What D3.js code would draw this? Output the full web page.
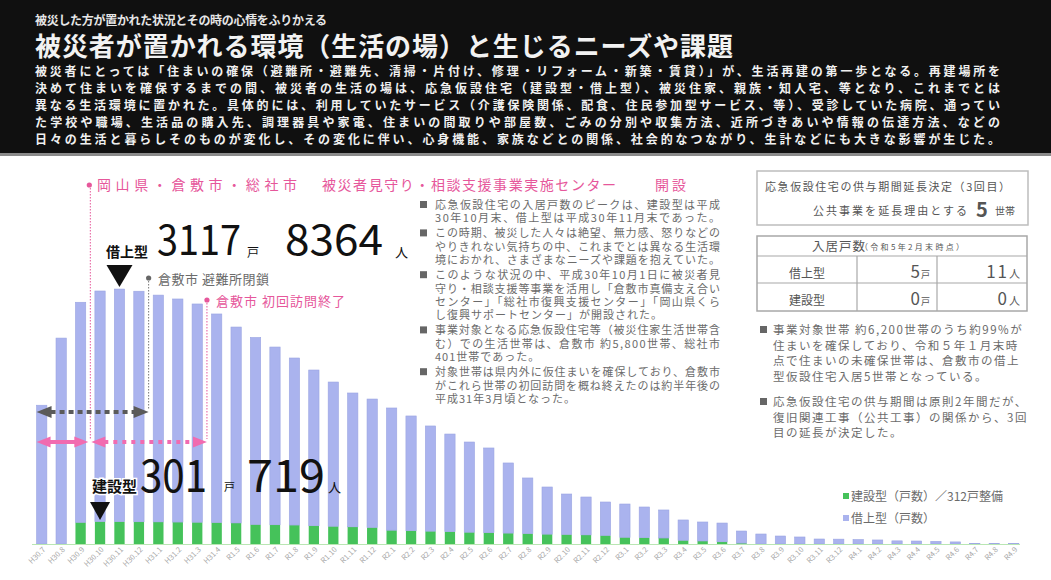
<!DOCTYPE html>
<html>
<head>
<meta charset="utf-8">
<script src="https://cdn.jsdelivr.net/npm/d3@7"></script>
<style>
  body { margin: 0; background: #fff; }
  svg { display: block; font-family: "Noto Sans CJK JP", "Noto Sans", sans-serif; }
</style>
</head>
<body>
<svg id="chart" width="1051" height="580"></svg>
<script>
// ---- data -------------------------------------------------------------
const months = [
  "H30.7","H30.8","H30.9","H30.10","H30.11","H30.12",
  "H31.1","H31.2","H31.3","H31.4",
  "R1.5","R1.6","R1.7","R1.8","R1.9","R1.10","R1.11","R1.12",
  "R2.1","R2.2","R2.3","R2.4","R2.5","R2.6","R2.7","R2.8","R2.9","R2.10","R2.11","R2.12",
  "R3.1","R3.2","R3.3","R3.4","R3.5","R3.6","R3.7","R3.8","R3.9","R3.10","R3.11","R3.12",
  "R4.1","R4.2","R4.3","R4.4","R4.5","R4.6","R4.7","R4.8","R4.9"
];
// 建設型（戸数）
const kensetsuUnits = [
  0, 0, 290, 301, 300, 298, 296, 294, 292, 288,
  282, 262, 258, 254, 245, 238, 230, 222,
  185, 178, 172, 165, 158, 152, 146, 140, 132, 128, 122, 115,
  90, 85, 80, 50, 40, 30, 12, 0, 0, 0, 0, 0,
  0, 0, 0, 0, 0, 0, 0, 0, 0
];
// 借上型（戸数）
const kariageUnits = [
  1860, 2760, 2950, 3090, 3117, 3090, 3040, 2990, 2925, 2795,
  2626, 2506, 2382, 2239, 2087, 1933, 1794, 1721,
  1638, 1538, 1410, 1309, 1209, 1135, 940, 745, 632, 542, 508, 448,
  446, 411, 376, 272, 255, 251, 162, 134, 107, 94, 67, 65,
  60, 54, 42, 40, 35, 28, 8, 7, 6
];
const kariagePeakPersons = 8364;
const kensetsuPeakPersons = 719;

const seriesNames = ["建設型（戸数）／312戸整備", "借上型（戸数）"];

const headerKicker = "被災した方が置かれた状況とその時の心情をふりかえる";
const headerTitle = "被災者が置かれる環境（生活の場）と生じるニーズや課題";
const headerLines = [
  "被災者にとっては「住まいの確保（避難所・避難先、清掃・片付け、修理・リフォーム・新築・賃貸）」が、生活再建の第一歩となる。再建場所を",
  "決めて住まいを確保するまでの間、被災者の生活の場は、応急仮設住宅（建設型・借上型）、被災住家、親族・知人宅、等となり、これまでとは",
  "異なる生活環境に置かれた。具体的には、利用していたサービス（介護保険関係、配食、住民参加型サービス、等）、受診していた病院、通ってい",
  "た学校や職場、生活品の購入先、調理器具や家電、住まいの間取りや部屋数、ごみの分別や収集方法、近所づきあいや情報の伝達方法、などの",
  "日々の生活と暮らしそのものが変化し、その変化に伴い、心身機能、家族などとの関係、社会的なつながり、生計などにも大きな影響が生じた。"
];

const centerNotes = [
  ["応急仮設住宅の入居戸数のピークは、建設型は平成", "30年10月末、借上型は平成30年11月末であった。"],
  ["この時期、被災した人々は絶望、無力感、怒りなどの", "やりきれない気持ちの中、これまでとは異なる生活環", "境におかれ、さまざまなニーズや課題を抱えていた。"],
  ["このような状況の中、平成30年10月1日に被災者見", "守り・相談支援等事業を活用し「倉敷市真備支え合い", "センター」「総社市復興支援センター」「岡山県くら", "し復興サポートセンター」が開設された。"],
  ["事業対象となる応急仮設住宅等（被災住家生活世帯含", "む）での生活世帯は、倉敷市 約5,800世帯、総社市", "401世帯であった。"],
  ["対象世帯は県内外に仮住まいを確保しており、倉敷市", "がこれら世帯の初回訪問を概ね終えたのは約半年後の", "平成31年3月頃となった。"]
];

const sideNotes = [
  ["事業対象世帯 約6,200世帯のうち約99%が", "住まいを確保しており、令和５年１月末時", "点で住まいの未確保世帯は、倉敷市の借上", "型仮設住宅入居5世帯となっている。"],
  ["応急仮設住宅の供与期間は原則2年間だが、", "復旧関連工事（公共工事）の関係から、3回", "目の延長が決定した。"]
];

const extensionTitle = "応急仮設住宅の供与期間延長決定（3回目）";
const extensionReason = "公共事業を延長理由とする";
const extensionHouseholds = 5;

const occupancyTitle = "入居戸数";
const occupancyAsOf = "（令和5年2月末時点）";
const occupancyTypes = ["借上型", "建設型"];
const occupancyUnits = [5, 0];
const occupancyPersons = [11, 0];

const events = [
  { after: "H30.9",  text: "岡山県・倉敷市・総社市", text2: "被災者見守り・相談支援事業実施センター", text3: "開設" },
  { after: "H30.12", text: "倉敷市 避難所閉鎖" },
  { after: "H31.3",  text: "倉敷市 初回訪問終了" }
];

// ---- setup ------------------------------------------------------------
const svg = d3.select("#chart");
const W = 1051;
const pink = "#e6579b";
const pinkArrow = "#f16bb0";
const grayText = "#6b6b6b";
const blue = "#aab3ee";
const green = "#45c25a";

// ---- header -----------------------------------------------------------
const header = svg.append("g");
header.append("rect").attr("x", 0).attr("y", 0).attr("width", W).attr("height", 153).attr("fill", "#101010");
header.append("rect").attr("x", 0).attr("y", 153).attr("width", W).attr("height", 3).attr("fill", "#8a8a8a");

header.append("text").attr("x", 35).attr("y", 25)
  .attr("fill", "#e6e6e6").attr("font-size", 12).attr("font-weight", 700)
  .attr("textLength", 292).attr("lengthAdjust", "spacing")
  .text(headerKicker);

header.append("text").attr("x", 35).attr("y", 56)
  .attr("fill", "#f2f2f2").attr("font-size", 26).attr("font-weight", 700)
  .attr("textLength", 698).attr("lengthAdjust", "spacing")
  .text(headerTitle);

header.selectAll("text.body").data(headerLines).join("text")
  .attr("class", "body")
  .attr("x", 35).attr("y", (d, i) => 76 + i * 17)
  .attr("fill", "#f0f0f0").attr("font-size", 12).attr("font-weight", 700)
  .attr("textLength", 965).attr("lengthAdjust", "spacing")
  .text(d => d);

// ---- scales -----------------------------------------------------------
const baseY = 544;
const x = d3.scaleBand().domain(months).range([32, 1023.4]).paddingInner(0.47).paddingOuter(0.235);
const y = d3.scaleLinear().domain([0, 3500]).range([baseY, baseY - 3500 * 0.07461]);
const step = x.step();
const cx = m => x(m) + x.bandwidth() / 2;
const boundaryAfter = m => cx(m) + step / 2;

// ---- bars -------------------------------------------------------------
const rows = months.map((m, i) => ({ month: m, kensetsu: kensetsuUnits[i], kariage: kariageUnits[i] }));
const stacked = d3.stack().keys(["kensetsu", "kariage"])(rows);
const colors = { kensetsu: green, kariage: blue };

const barsG = svg.append("g");
stacked.forEach(layer => {
  barsG.append("g").selectAll("rect").data(layer).join("rect")
    .attr("x", d => x(d.data.month))
    .attr("width", x.bandwidth())
    .attr("y", d => y(d[1]))
    .attr("height", d => Math.max(0, y(d[0]) - y(d[1])))
    .attr("fill", colors[layer.key])
    .attr("stroke", layer.key === "kariage" ? "#9ba5e2" : "none")
    .attr("stroke-width", 0.6);
});

// baseline
svg.append("line")
  .attr("x1", 32).attr("x2", 1020).attr("y1", baseY + 0.5).attr("y2", baseY + 0.5)
  .attr("stroke", "#b9e6b3").attr("stroke-width", 1.2);

// x axis labels
const xAxis = svg.append("g").attr("transform", `translate(0,${baseY + 4})`)
  .call(d3.axisBottom(x).tickSize(0).tickPadding(0));
xAxis.select(".domain").remove();
xAxis.selectAll("text")
  .attr("fill", "#a9a9a9").attr("font-size", 7.5)
  .attr("font-family", "'Noto Sans CJK JP', sans-serif")
  .attr("text-anchor", "end")
  .attr("dy", "0.6em").attr("dx", "0.2em")
  .attr("transform", "rotate(-45)");

// ---- event annotations -----------------------------------------------
const ann = svg.append("g");

// opening of the support centers
const xOpen = boundaryAfter(events[0].after);
ann.append("line").attr("x1", xOpen).attr("x2", xOpen).attr("y1", 185).attr("y2", 440)
  .attr("stroke", pink).attr("stroke-width", 1).attr("stroke-dasharray", "1.5,1.5");
ann.append("circle").attr("cx", xOpen - 1).attr("cy", 185).attr("r", 2.6).attr("fill", pink);
ann.append("text").attr("x", 97).attr("y", 190).attr("fill", pink).attr("font-size", 14)
  .attr("textLength", 200).attr("lengthAdjust", "spacing").text(events[0].text);
ann.append("text").attr("x", 322).attr("y", 190).attr("fill", pink).attr("font-size", 14)
  .attr("textLength", 294).attr("lengthAdjust", "spacing").text(events[0].text2);
ann.append("text").attr("x", 655).attr("y", 190).attr("fill", pink).attr("font-size", 14)
  .attr("letter-spacing", 3).text(events[0].text3);

// shelter closure
const xClose = boundaryAfter(events[1].after);
ann.append("line").attr("x1", xClose).attr("x2", xClose).attr("y1", 278).attr("y2", 410)
  .attr("stroke", "#777").attr("stroke-width", 1).attr("stroke-dasharray", "1.5,1.5");
ann.append("circle").attr("cx", xClose).attr("cy", 278).attr("r", 2.6).attr("fill", "#666");
ann.append("text").attr("x", 158).attr("y", 284).attr("fill", grayText).attr("font-size", 13)
  .attr("letter-spacing", 0.5).text(events[1].text);

// first visits complete
const xVisit = boundaryAfter(events[2].after);
ann.append("line").attr("x1", xVisit).attr("x2", xVisit).attr("y1", 300).attr("y2", 439)
  .attr("stroke", pink).attr("stroke-width", 1).attr("stroke-dasharray", "1.5,1.5");
ann.append("circle").attr("cx", xVisit).attr("cy", 300).attr("r", 2.6).attr("fill", pink);
ann.append("text").attr("x", 216).attr("y", 306).attr("fill", pink).attr("font-size", 13)
  .attr("letter-spacing", 1).text(events[2].text);

// double-headed arrows along the periods
function arrowHead(g, tipX, yy, dir, len, half, color) {
  const back = tipX - dir * len;
  g.append("path")
    .attr("d", `M${tipX},${yy} L${back},${yy - half} L${back},${yy + half} Z`)
    .attr("fill", color);
}
function doubleArrow(x1, x2, yy, color, dash, len, half, width) {
  const g = ann.append("g");
  g.append("line").attr("x1", x1 + len - 1).attr("x2", x2 - len + 1).attr("y1", yy).attr("y2", yy)
    .attr("stroke", color).attr("stroke-width", width)
    .attr("stroke-dasharray", dash || null);
  arrowHead(g, x1, yy, -1, len, half, color);
  arrowHead(g, x2, yy, 1, len, half, color);
}
const xStart = x(months[0]);
doubleArrow(xStart, xClose, 412, "#5a5a5a", "5,4", 15, 6, 4);
doubleArrow(xStart, xOpen - 2, 442, pinkArrow, null, 14, 5.5, 4);
doubleArrow(xOpen + 1, xVisit, 442, pinkArrow, "4,5", 14, 5.5, 4);

// ---- peak call-outs ---------------------------------------------------
const iKariagePeak = kariageUnits.indexOf(d3.max(kariageUnits));
const iKensetsuPeak = kensetsuUnits.indexOf(d3.max(kensetsuUnits));
const callouts = svg.append("g").attr("fill", "#111");

function triangle(cxv, top, w, h) {
  callouts.append("path")
    .attr("d", `M${cxv - w / 2},${top} L${cxv + w / 2},${top} L${cxv},${top + h} Z`)
    .attr("fill", "#111");
}

// 借上型 peak
const kx = cx(months[iKariagePeak]);
callouts.append("text").attr("x", 106).attr("y", 257).attr("font-size", 14).attr("font-weight", 700)
  .text("借上型");
callouts.append("text").attr("x", 157).attr("y", 255).attr("font-size", 42)
  .attr("textLength", 84).attr("lengthAdjust", "spacingAndGlyphs")
  .text(kariageUnits[iKariagePeak]);
callouts.append("text").attr("x", 247).attr("y", 257).attr("font-size", 12).text("戸");
callouts.append("text").attr("x", 285).attr("y", 255).attr("font-size", 42)
  .attr("textLength", 98).attr("lengthAdjust", "spacingAndGlyphs")
  .text(kariagePeakPersons);
callouts.append("text").attr("x", 395).attr("y", 257).attr("font-size", 13).text("人");
triangle(kx, 265, 26, 22);

// 建設型 peak
const gx = cx(months[iKensetsuPeak]);
callouts.append("text").attr("x", 92).attr("y", 492).attr("font-size", 15).attr("font-weight", 700)
  .attr("stroke", "#fff").attr("stroke-width", 3).attr("paint-order", "stroke")
  .text("建設型");
callouts.append("text").attr("x", 140).attr("y", 492).attr("font-size", 45)
  .attr("textLength", 67).attr("lengthAdjust", "spacingAndGlyphs")
  .text(kensetsuUnits[iKensetsuPeak]);
callouts.append("text").attr("x", 224).attr("y", 491).attr("font-size", 11).text("戸");
callouts.append("text").attr("x", 247).attr("y", 492).attr("font-size", 45)
  .attr("textLength", 78).attr("lengthAdjust", "spacingAndGlyphs")
  .text(kensetsuPeakPersons);
callouts.append("text").attr("x", 328).attr("y", 492).attr("font-size", 13).text("人");
triangle(gx, 502, 20, 18);

// ---- centre notes -----------------------------------------------------
const notesG = svg.append("g").attr("fill", grayText).attr("font-size", 11);
let ny = 209;
centerNotes.forEach(block => {
  notesG.append("rect").attr("x", 420).attr("y", ny - 8).attr("width", 7).attr("height", 7).attr("fill", "#666");
  block.forEach(line => {
    const t = notesG.append("text").attr("x", 435).attr("y", ny).attr("letter-spacing", 1).text(line);
    // justify lines that run the full column width
    if (t.node().getComputedTextLength() > 262) {
      t.attr("letter-spacing", null).attr("textLength", 285).attr("lengthAdjust", "spacing");
    }
    ny += 13.4;
  });
  ny += 1.6;
});

// ---- right-hand boxes -------------------------------------------------
const side = svg.append("g").attr("fill", "#555");
side.append("rect").attr("x", 757).attr("y", 171).attr("width", 271).attr("height", 54)
  .attr("fill", "#fff").attr("stroke", "#bdbdbd").attr("stroke-width", 1.5);
side.append("text").attr("x", 765).attr("y", 191).attr("font-size", 11)
  .attr("textLength", 245).attr("lengthAdjust", "spacing").text(extensionTitle);
side.append("text").attr("x", 813).attr("y", 215).attr("font-size", 11)
  .attr("textLength", 154).attr("lengthAdjust", "spacing").text(extensionReason);
side.append("text").attr("x", 976).attr("y", 217).attr("font-size", 20).attr("font-weight", 700)
  .text(extensionHouseholds);
side.append("text").attr("x", 995).attr("y", 215).attr("font-size", 10).text("世帯");

// occupancy table
const tb = side.append("g");
tb.append("rect").attr("x", 757).attr("y", 236).attr("width", 270).attr("height", 75)
  .attr("fill", "#fff").attr("stroke", "#a8a8a8").attr("stroke-width", 1.5);
[256, 283].forEach(yy => tb.append("line").attr("x1", 757).attr("x2", 1027).attr("y1", yy).attr("y2", yy)
  .attr("stroke", "#a8a8a8").attr("stroke-width", 1.2));
[857, 937].forEach(xx => tb.append("line").attr("x1", xx).attr("x2", xx).attr("y1", 256).attr("y2", 311)
  .attr("stroke", "#a8a8a8").attr("stroke-width", 1.2));
tb.append("text").attr("x", 812).attr("y", 251).attr("font-size", 12.5).attr("letter-spacing", 1).text(occupancyTitle);
tb.append("text").attr("x", 860).attr("y", 250).attr("font-size", 8)
  .attr("textLength", 104).attr("lengthAdjust", "spacing").text(occupancyAsOf);
occupancyTypes.forEach((t, i) => {
  const yy = 278 + i * 27;
  tb.append("text").attr("x", 807).attr("y", yy).attr("font-size", 12).attr("text-anchor", "middle").text(t);
  const u = tb.append("text").attr("x", 930).attr("y", yy).attr("text-anchor", "end");
  u.append("tspan").attr("font-size", 17).text(occupancyUnits[i]);
  u.append("tspan").attr("font-size", 9).attr("dx", 1).text("戸");
  const p = tb.append("text").attr("x", 1020).attr("y", yy).attr("text-anchor", "end");
  p.append("tspan").attr("font-size", 17).attr("letter-spacing", 2).text(occupancyPersons[i]);
  p.append("tspan").attr("font-size", 11).text("人");
});

// side bullet notes
let sy = 334;
sideNotes.forEach(block => {
  side.append("rect").attr("x", 760).attr("y", sy - 8).attr("width", 7).attr("height", 7).attr("fill", "#666");
  block.forEach(line => {
    side.append("text").attr("x", 773).attr("y", sy).attr("font-size", 11.5).attr("fill", grayText)
      .attr("letter-spacing", 1.5).text(line);
    sy += 15.5;
  });
  sy += 10;
});

// ---- legend -----------------------------------------------------------
const legend = svg.append("g");
[green, blue].forEach((c, i) => {
  const yy = 496 + i * 22;
  legend.append("rect").attr("x", 843).attr("y", yy - 3).attr("width", 6).attr("height", 6).attr("fill", c);
  legend.append("text").attr("x", 851).attr("y", yy + 4.5).attr("font-size", 12).attr("fill", grayText)
    .text(seriesNames[i]);
});
</script>
</body>
</html>
